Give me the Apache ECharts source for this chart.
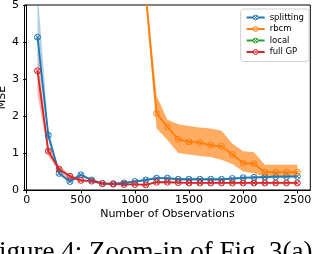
<!DOCTYPE html>
<html><head><meta charset="utf-8">
<script src="https://cdn.jsdelivr.net/npm/echarts@6/dist/echarts.min.js"></script>
<style>html,body{margin:0;padding:0;background:#fff}#c{width:312px;height:254px}</style>
</head><body><div id="c"></div>
<script>
var xs = [100,200,300,400,500,600,700,800,900,1000,1100,1200,1300,1400,1500,1600,1700,1800,1900,2000,2100,2200,2300,2400,2500];
var splitMean  = [4.13,1.48,0.45,0.23,0.41,0.27,0.18,0.17,0.19,0.23,0.27,0.32,0.32,0.29,0.29,0.29,0.29,0.29,0.31,0.33,0.34,0.35,0.36,0.36,0.37];
var splitUpper = [5.40,1.62,0.52,0.28,0.46,0.30,0.21,0.20,0.22,0.26,0.30,0.35,0.35,0.32,0.32,0.32,0.32,0.32,0.34,0.36,0.37,0.38,0.39,0.39,0.40];
var splitLower = [3.70,1.32,0.40,0.19,0.36,0.24,0.15,0.14,0.16,0.20,0.24,0.29,0.29,0.26,0.26,0.26,0.26,0.26,0.28,0.30,0.31,0.32,0.33,0.33,0.34];
var rbcmMean  = [null,null,null,null,null,null,null,null,null,null,5.30,2.07,1.71,1.37,1.30,1.28,1.21,1.18,0.96,0.73,0.71,0.48,0.48,0.48,0.48];
var rbcmUpper = [null,null,null,null,null,null,null,null,null,null,5.50,2.55,1.90,1.78,1.73,1.69,1.66,1.60,1.25,1.05,1.02,0.68,0.68,0.68,0.68];
var rbcmLower = [null,null,null,null,null,null,null,null,null,null,5.10,1.67,1.35,1.00,0.96,0.92,0.89,0.82,0.70,0.50,0.45,0.36,0.36,0.36,0.36];
var localMean = [];
var gpMean  = [3.22,1.05,0.56,0.37,0.26,0.24,0.17,0.16,0.15,0.15,0.14,0.21,0.21,0.20,0.19,0.19,0.19,0.19,0.19,0.19,0.19,0.19,0.19,0.19,0.19];
var gpUpper = [3.75,1.18,0.64,0.42,0.29,0.26,0.19,0.18,0.17,0.17,0.16,0.23,0.23,0.22,0.21,0.21,0.21,0.21,0.21,0.21,0.21,0.21,0.21,0.21,0.21];
var gpLower = [2.60,0.92,0.48,0.32,0.23,0.22,0.15,0.14,0.13,0.13,0.12,0.19,0.19,0.18,0.17,0.17,0.17,0.17,0.17,0.17,0.17,0.17,0.17,0.17,0.17];
var yTicks = [0,1,2,3,4,5];
var xTicks = [0,500,1000,1500,2000,2500];
var seriesNames = ['splitting','rbcm','local','full GP'];
var colors = ['#1f77b4','#ff7f0e','#2ca02c','#d62728'];
var caption = 'Figure 4: Zoom-in of Fig. 3(a)';

var FONT = 'DejaVu Sans';
var markerPath = 'path://M0,-5A5,5 0 1,1 0,5A5,5 0 1,1 0,-5ZM-3.5,-3.5L3.5,3.5M3.5,-3.5L-3.5,3.5';

function pairs(vals){
  var out = [];
  for (var i=0;i<xs.length;i++){ if (vals[i]!==null && vals[i]!==undefined) out.push([xs[i], vals[i]]); }
  return out;
}
function band(upper, lower, color, opacity){
  return {
    type:'custom', clip:true, silent:true, z:1,
    data:[0],
    renderItem:function(params, api){
      var top=[], bot=[];
      for (var i=0;i<xs.length;i++){
        if (upper[i]===null) continue;
        top.push(api.coord([xs[i], upper[i]]));
        bot.unshift(api.coord([xs[i], lower[i]]));
      }
      return {type:'polygon', shape:{points:top.concat(bot)}, style:{fill:color, opacity:opacity}};
    }
  };
}
function line(name, vals, color){
  return {
    name:name, type:'line', data:pairs(vals), z:3,
    symbol:markerPath, symbolSize:6, showSymbol:true, clip:true,
    lineStyle:{color:color, width:1.8},
    itemStyle:{color:'rgba(255,255,255,0)', borderColor:color, borderWidth:1},
    emphasis:{disabled:true}, animation:false
  };
}

var chart = echarts.init(document.getElementById('c'), null, {renderer:'canvas'});
chart.setOption({
  animation:false,
  color:colors,
  grid:{left:24.5, right:1.7, top:5, bottom:64, containLabel:false, outerBoundsMode:'none',
        show:true, borderColor:'#000', borderWidth:1},
  xAxis:{type:'value', min:-20, max:2620,
    name:'Number of Observations', nameLocation:'middle', nameGap:19, nameMoveOverlap:false,
    nameTextStyle:{fontFamily:FONT, fontSize:11, color:'#000'},
    axisLine:{show:true, onZero:false, lineStyle:{color:'#000', width:1}},
    axisTick:{show:true, length:3.5, lineStyle:{color:'#000'}, customValues:xTicks},
    axisLabel:{fontFamily:FONT, fontSize:11, color:'#000', margin:4.5, customValues:xTicks,
      formatter:function(v){return String(v);}},
    splitLine:{show:false}},
  yAxis:{type:'value', min:0, max:5, interval:1,
    name:'MSE', nameLocation:'middle', nameGap:17, nameMoveOverlap:false, nameRotate:90,
    nameTextStyle:{fontFamily:FONT, fontSize:11, color:'#000'},
    axisLine:{show:true, lineStyle:{color:'#000', width:1}},
    axisTick:{show:true, length:3.5, lineStyle:{color:'#000'}, customValues:yTicks},
    axisLabel:{fontFamily:FONT, fontSize:11, color:'#000', margin:5.5, customValues:yTicks},
    splitLine:{show:false}},
  legend:{show:true, orient:'vertical', right:3, top:9,
    data:seriesNames,
    itemWidth:18, itemHeight:6, itemGap:2.5,
    padding:[4,5,5,5],
    backgroundColor:'rgba(255,255,255,0.8)',
    borderColor:'#d0d0d0', borderWidth:1, borderRadius:3,
    itemStyle:{color:'#ffffff', borderColor:'inherit', borderWidth:1},
    textStyle:{fontFamily:FONT, fontSize:8.5, color:'#000'},
    selectedMode:false},
  graphic:[{type:'text', x:-16, y:253, z:10,
    style:{text:caption, font:'27px "Liberation Serif"', fill:'#000', textVerticalAlign:'middle'}}],
  series:[
    band(splitUpper, splitLower, colors[0], 0.35),
    band(rbcmUpper, rbcmLower, colors[1], 0.65),
    band(gpUpper, gpLower, colors[3], 0.35),
    line(seriesNames[0], splitMean, colors[0]),
    line(seriesNames[1], rbcmMean, colors[1]),
    line(seriesNames[2], localMean, colors[2]),
    line(seriesNames[3], gpMean, colors[3])
  ]
});
</script></body></html>
